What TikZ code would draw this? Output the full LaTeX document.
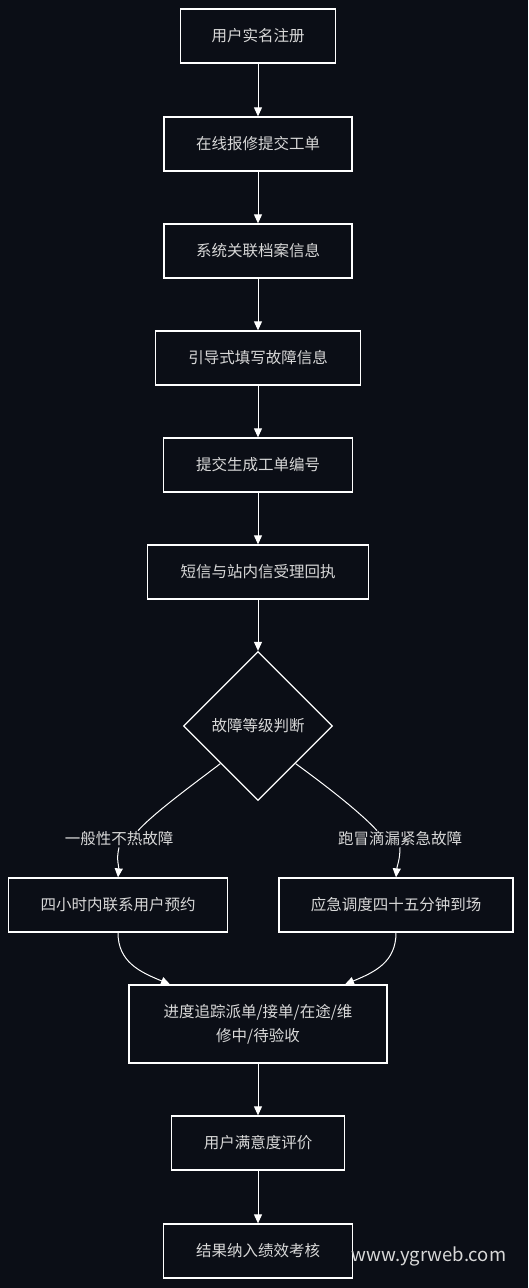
\documentclass[tikz,border=0pt]{standalone}
\usepackage{fontspec}
\setmainfont{Noto Sans CJK SC}
\usetikzlibrary{shapes.geometric,arrows.meta}
\definecolor{bg}{HTML}{0B0E16}
\definecolor{txt}{HTML}{D8D8D8}
\begin{document}
\begin{tikzpicture}[x=1pt,y=-1pt,
  box/.style={draw=white, line width=1.3pt, fill=bg, text=txt, minimum height=54pt, inner sep=0pt,
    font=\fontsize{15.5}{24}\selectfont, align=center},
  dia/.style={draw=white, line width=1.3pt, fill=bg, text=txt, diamond, inner sep=0pt, minimum size=149pt,
    font=\fontsize{15.5}{24}\selectfont},
  lab/.style={text=txt, fill=bg, inner sep=1pt, font=\fontsize{15.5}{24}\selectfont},
  arr/.style={draw=white, line width=1pt, -{Triangle[width=8pt,length=9pt]}},
  ln/.style={draw=white, line width=1pt}]
\fill[bg] (0,0) rectangle (528,1288);
\useasboundingbox (0,0) rectangle (528,1288);

\node[box, minimum width=155pt] (b1) at (258,36) {用户实名注册};
\node[box, minimum width=188pt] (b2) at (258,144) {在线报修提交工单};
\node[box, minimum width=188pt] (b3) at (258,251) {系统关联档案信息};
\node[box, minimum width=205pt] (b4) at (258,358) {引导式填写故障信息};
\node[box, minimum width=189pt] (b5) at (258,465) {提交生成工单编号};
\node[box, minimum width=221pt] (b6) at (258,572) {短信与站内信受理回执};
\node[dia] (d) at (258,726) {故障等级判断};
\node[lab] (l1) at (119,839) {一般性不热故障};
\node[lab] (l2) at (400,839) {跑冒滴漏紧急故障};
\node[box, minimum width=219pt] (bl) at (118,905) {四小时内联系用户预约};
\node[box, minimum width=234pt] (br) at (396,905) {应急调度四十五分钟到场};
\node[box, minimum width=258pt, minimum height=78pt] (bm) at (258,1024) {进度追踪派单/接单/在途/维\\修中/待验收};
\node[box, minimum width=173pt] (bs) at (258,1143) {用户满意度评价};
\node[box, minimum width=189pt] (bf) at (258,1251) {结果纳入绩效考核};
\node[text=txt, font=\fontsize{18.5}{20}\selectfont, inner sep=0pt] (wm) at (429,1256) {www.ygrweb.com};

\draw[arr] (b1.south) -- (b2.north);
\draw[arr] (b2.south) -- (b3.north);
\draw[arr] (b3.south) -- (b4.north);
\draw[arr] (b4.south) -- (b5.north);
\draw[arr] (b5.south) -- (b6.north);
\draw[arr] (b6.south) -- (d.north);
\draw[ln] (d.south west) .. controls (195,783) and (155,812) .. (l1.north -| 138,0);
\draw[arr] (l1.south) .. controls (116,860) and (119,866) .. (bl.north);
\draw[ln] (d.south east) .. controls (325,785) and (360,812) .. (l2.north -| 377,0);
\draw[arr] (l2.south) .. controls (400,860) and (397,866) .. (br.north);
\draw[arr] (bl.south) .. controls (118,962) and (140,972) .. (bm.north -| 170,0);
\draw[arr] (br.south) .. controls (396,962) and (375,972) .. (bm.north -| 345,0);
\draw[arr] (bm.south) -- (bs.north);
\draw[arr] (bs.south) -- (bf.north);
\end{tikzpicture}
\end{document}
